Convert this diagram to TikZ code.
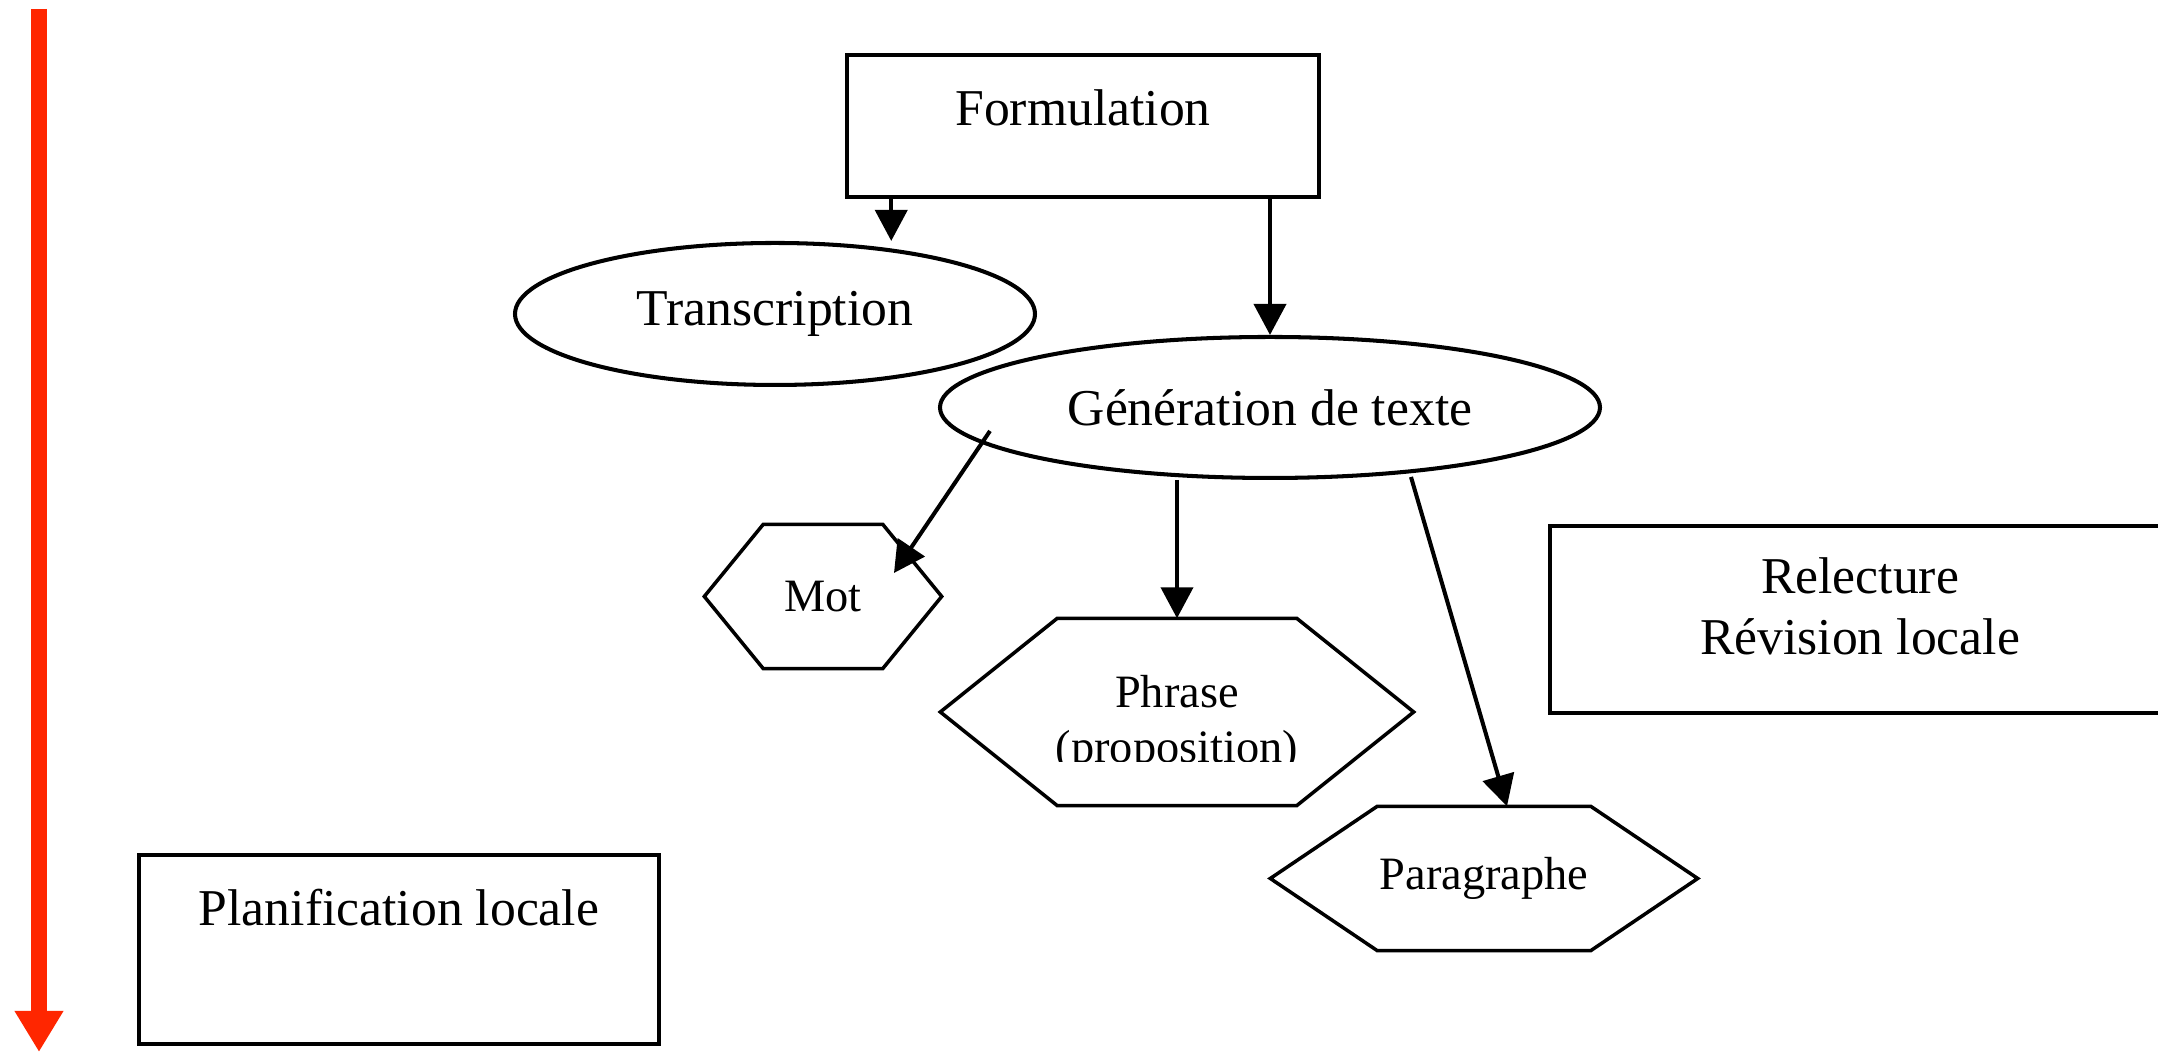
\documentclass[tikz,border=0pt]{standalone}
\usepackage{fontspec}
\setmainfont{Liberation Serif}
\definecolor{time_red}{RGB}{255, 38, 0}
\usetikzlibrary{arrows.meta, positioning, shapes.geometric, calc}

\begin{document}
\begin{tikzpicture}[
        box/.style={draw, line width=1pt, inner sep=0pt, align=center,
                    font=\fontsize{14.7pt}{17.4pt}\selectfont},
        oval/.style={draw, ellipse, line width=1.15pt, inner sep=0pt,
                     font=\fontsize{14.7pt}{17.4pt}\selectfont},
        hexa/.style={inner sep=0pt, font=\fontsize{13.2pt}{15.7pt}\selectfont},
        arr/.style={-{Triangle[length=0.31cm, width=0.32cm]}, line width=1.15pt}]
  \useasboundingbox (0, 0) rectangle (21.58, 10.52);
  \clip (0, 0) rectangle (21.58, 10.52);
  % Time axis
  \coordinate (ttop) at (0.39, 10.43);
  \coordinate (tbot) at (0.39, 0);
  \draw[time_red, line width=0.16cm, -{Triangle[length=0.41cm, width=0.46cm]}]
    (ttop) -- (tbot);
  % Boxes
  \node[box, minimum width=4.72cm, text height=0.71cm, text depth=0.71cm]
    (form) at (10.83, 9.26) {Formulation};
  \node[box, minimum width=5.20cm, text height=0.71cm, text depth=1.18cm]
    (plan) at (3.99, 1.025) {Planification locale};
  \node[box, minimum width=6.20cm, text height=1.29cm, text depth=0.58cm]
    (rel) at (18.60, 4.325) {Relecture\\Révision locale};
  % Ellipses
  \node[oval, minimum width=5.20cm, minimum height=1.42cm]
    (trans) at (7.75, 7.38) {Transcription};
  \node[oval, minimum width=6.60cm, minimum height=1.41cm]
    (gen) at (12.70, 6.445) {Génération de texte};
  % Hexagons
  \node[hexa, minimum width=2.36cm, minimum height=1.43cm]
    (mot) at (8.23, 4.555) {Mot};
  \node[hexa, minimum width=4.72cm, minimum height=1.86cm]
    (phr) at (11.77, 3.40) {};
  \node[hexa, minimum width=4.26cm, minimum height=1.43cm]
    (par) at (14.84, 1.735) {Paragraphe};
  \foreach \n/\d in {mot/0.59, phr/1.17, par/1.07}
    \draw[line width=1pt] (\n.west) -- ([xshift=\d cm]\n.north west)
      -- ([xshift=-\d cm]\n.north east) -- (\n.east)
      -- ([xshift=-\d cm]\n.south east) -- ([xshift=\d cm]\n.south west) -- cycle;
  \begin{scope}
    \clip ([yshift=-0.50cm]phr.west) rectangle (phr.north east);
    \node[hexa, align=center] (phrtxt) at ([yshift=-0.12cm]phr.center)
      {Phrase\\(proposition)};
  \end{scope}
  % Arrows
  \draw[arr] ([xshift=0.46cm]form.south west)
    -- ([xshift=0.46cm]form.south west |- trans.north);
  \draw[arr] (form.south -| gen.north) -- (gen.north);
  \draw[arr] ([xshift=-2.80cm, yshift=-0.235cm]gen.center)
    -- ([xshift=0.71cm, yshift=0.235cm]mot.center);
  \draw[arr] (phr.north |- gen.south) -- (phr.north);
  \draw[arr] ([xshift=1.41cm, yshift=-0.695cm]gen.center)
    -- ([xshift=0.23cm]par.north);
\end{tikzpicture}
\end{document}
